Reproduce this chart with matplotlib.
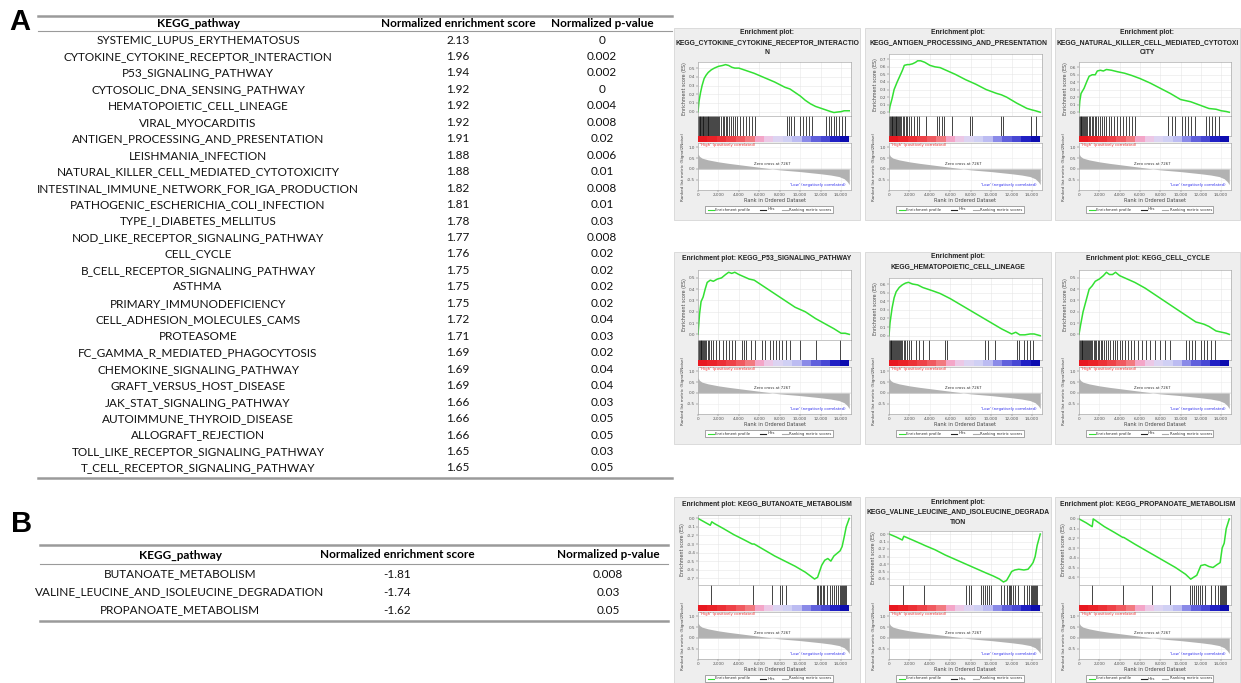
import matplotlib
matplotlib.use('Agg')
import matplotlib.pyplot as plt
from matplotlib.patches import Rectangle
import numpy as np

# ---------------- DATA ----------------
pathways_up = ["SYSTEMIC_LUPUS_ERYTHEMATOSUS", "CYTOKINE_CYTOKINE_RECEPTOR_INTERACTION",
               "P53_SIGNALING_PATHWAY", "CYTOSOLIC_DNA_SENSING_PATHWAY", "HEMATOPOIETIC_CELL_LINEAGE",
               "VIRAL_MYOCARDITIS", "ANTIGEN_PROCESSING_AND_PRESENTATION", "LEISHMANIA_INFECTION",
               "NATURAL_KILLER_CELL_MEDIATED_CYTOTOXICITY", "INTESTINAL_IMMUNE_NETWORK_FOR_IGA_PRODUCTION",
               "PATHOGENIC_ESCHERICHIA_COLI_INFECTION", "TYPE_I_DIABETES_MELLITUS",
               "NOD_LIKE_RECEPTOR_SIGNALING_PATHWAY", "CELL_CYCLE", "B_CELL_RECEPTOR_SIGNALING_PATHWAY",
               "ASTHMA", "PRIMARY_IMMUNODEFICIENCY", "CELL_ADHESION_MOLECULES_CAMS", "PROTEASOME",
               "FC_GAMMA_R_MEDIATED_PHAGOCYTOSIS", "CHEMOKINE_SIGNALING_PATHWAY", "GRAFT_VERSUS_HOST_DISEASE",
               "JAK_STAT_SIGNALING_PATHWAY", "AUTOIMMUNE_THYROID_DISEASE", "ALLOGRAFT_REJECTION",
               "TOLL_LIKE_RECEPTOR_SIGNALING_PATHWAY", "T_CELL_RECEPTOR_SIGNALING_PATHWAY"]
nes_up = [2.13, 1.96, 1.94, 1.92, 1.92, 1.92, 1.91, 1.88, 1.88, 1.82, 1.81, 1.78, 1.77, 1.76,
          1.75, 1.75, 1.75, 1.72, 1.71, 1.69, 1.69, 1.69, 1.66, 1.66, 1.66, 1.65, 1.65]
pval_up = ["0", "0.002", "0.002", "0", "0.004", "0.008", "0.02", "0.006", "0.01", "0.008", "0.01",
           "0.03", "0.008", "0.02", "0.02", "0.02", "0.02", "0.04", "0.03", "0.02", "0.04", "0.04",
           "0.03", "0.05", "0.05", "0.03", "0.05"]

pathways_down = ["BUTANOATE_METABOLISM", "VALINE_LEUCINE_AND_ISOLEUCINE_DEGRADATION", "PROPANOATE_METABOLISM"]
nes_down = [-1.81, -1.74, -1.62]
pval_down = ["0.008", "0.03", "0.05"]

table_header = ["KEGG_pathway", "Normalized enrichment score", "Normalized p-value"]

rank_ticks = [0, 2000, 4000, 6000, 8000, 10000, 12000, 14000]
rank_tick_labels = ["0", "2,000", "4,000", "6,000", "8,000", "10,000", "12,000", "14,000"]
rank_max = 14970
zero_cross = 7267

# ranked list metric (shared by all panels)
metric_rank = [0, 150, 400, 1000, 2000, 3000, 4000, 5000, 6000, 7267, 8000, 9000, 10000,
               11000, 12000, 13000, 13800, 14300, 14600, 14800]
metric_value = [0.70, 0.58, 0.50, 0.42, 0.33, 0.26, 0.20, 0.14, 0.08, 0.0, -0.04, -0.08, -0.12,
                -0.17, -0.22, -0.28, -0.35, -0.45, -0.58, -0.72]

# panel 1: CYTOKINE_CYTOKINE_RECEPTOR_INTERACTION
es1_rank = [0, 100, 250, 400, 600, 800, 1000, 1300, 1600, 2000, 2400, 2700, 3000, 3300, 3600, 4000,
            4500, 5000, 5500, 6500, 7500, 8500, 9000, 9500, 10000, 10500, 11000, 11500, 12000, 12500,
            13000, 13300, 13600, 14000, 14300, 14800]
es1_val = [0.0, 0.12, 0.22, 0.30, 0.38, 0.42, 0.45, 0.48, 0.50, 0.52, 0.53, 0.54, 0.53, 0.51, 0.50, 0.50,
           0.48, 0.46, 0.44, 0.39, 0.34, 0.28, 0.26, 0.22, 0.18, 0.13, 0.09, 0.06, 0.04, 0.02,
           0.0, -0.01, -0.005, 0.0, 0.01, 0.01]
hits1 = [20, 80, 150, 220, 300, 380, 450, 520, 600, 680, 760, 850, 930, 1000, 1100, 1180, 1260, 1350,
         1450, 1550, 1650, 1750, 1850, 1950, 2100, 2250, 2400, 2550, 2700, 2850, 3000, 3200, 3400, 3600,
         3850, 4100, 4400, 4700, 5000, 5300, 5600, 8700, 8900, 9100, 9400, 10000, 10300, 10600, 10900,
         11200, 12500, 12800, 13000, 13300, 13500, 13800, 14100, 14400]

# panel 2: ANTIGEN_PROCESSING_AND_PRESENTATION
es2_rank = [0, 100, 300, 500, 800, 1000, 1300, 1500, 1800, 2000, 2300, 2600, 2800, 3100, 3500, 4000,
            4500, 5000, 5500, 6500, 7500, 8500, 9500, 10500, 11000, 11500, 12500, 13500, 14000, 14300, 14800]
es2_val = [0.0, 0.08, 0.18, 0.30, 0.40, 0.46, 0.55, 0.62, 0.63, 0.63, 0.64, 0.66, 0.68, 0.68, 0.66, 0.62,
           0.60, 0.59, 0.56, 0.50, 0.43, 0.37, 0.30, 0.25, 0.23, 0.20, 0.12, 0.05, 0.03, 0.02, 0.0]
hits2 = [30, 100, 180, 250, 330, 400, 480, 560, 650, 720, 800, 900, 1000, 1100, 1200, 1350, 1500, 1650,
         1800, 2000, 2200, 2450, 2700, 2900, 3600, 4700, 4900, 5200, 5400, 6200, 7900, 8100, 11000, 11200,
         13900, 14400]

# panel 3: NATURAL_KILLER_CELL_MEDIATED_CYTOTOXICITY
es3_rank = [0, 80, 200, 500, 800, 1000, 1300, 1600, 1800, 2100, 2400, 2700, 3200, 3800, 4500, 5200,
            6000, 7000, 8000, 9000, 10000, 11000, 12000, 12800, 13500, 14000, 14500, 14800]
es3_val = [0.0, 0.15, 0.25, 0.32, 0.42, 0.48, 0.50, 0.50, 0.55, 0.56, 0.55, 0.57, 0.56, 0.54, 0.52, 0.49,
           0.45, 0.39, 0.32, 0.25, 0.17, 0.14, 0.09, 0.05, 0.04, 0.02, 0.01, 0.0]
hits3 = [20, 90, 160, 240, 320, 400, 500, 600, 700, 820, 950, 1100, 1250, 1400, 1550, 1700, 1900, 2100,
         2300, 2500, 2700, 2950, 3200, 3450, 3700, 4000, 4300, 4600, 4900, 5200, 5500, 8800, 9200, 9500,
         10100, 10400, 10700, 11000, 11400, 12500, 12800, 13100, 13400, 13800]

# panel 4: P53_SIGNALING_PATHWAY
es4_rank = [0, 150, 300, 500, 700, 900, 1200, 1500, 1900, 2300, 2700, 3000, 3300, 3600, 4000, 4500,
            5000, 5500, 6500, 7500, 8500, 9500, 10500, 11500, 12500, 13300, 14000, 14400, 14800]
es4_val = [0.0, 0.18, 0.29, 0.33, 0.40, 0.46, 0.48, 0.47, 0.49, 0.50, 0.53, 0.55, 0.54, 0.55, 0.53, 0.51,
           0.49, 0.48, 0.42, 0.36, 0.30, 0.24, 0.20, 0.14, 0.09, 0.05, 0.01, 0.01, 0.0]
hits4 = [20, 100, 180, 260, 340, 420, 520, 620, 720, 820, 950, 1100, 1300, 1500, 1800, 2100, 2400, 2700,
         3000, 3300, 3600, 4300, 4500, 4700, 5200, 5600, 6300, 6600, 7000, 7300, 7600, 7900, 8200, 8600,
         9000, 10000, 11500, 13900]

# panel 5: HEMATOPOIETIC_CELL_LINEAGE
es5_rank = [0, 100, 300, 500, 700, 1000, 1300, 1600, 1900, 2300, 2800, 3300, 3800, 4300, 5000, 6000,
            7000, 8000, 9000, 10000, 11000, 12000, 12400, 12800, 13300, 13800, 14200, 14800]
es5_val = [0.0, 0.15, 0.32, 0.44, 0.51, 0.56, 0.59, 0.61, 0.62, 0.60, 0.59, 0.56, 0.54, 0.52, 0.49, 0.43,
           0.36, 0.29, 0.22, 0.15, 0.08, 0.02, 0.04, 0.01, 0.01, 0.02, 0.02, 0.0]
hits5 = [20, 90, 160, 240, 320, 400, 480, 560, 650, 750, 850, 950, 1050, 1150, 1300, 1450, 1600, 1800,
         2000, 2200, 2600, 2900, 3300, 3900, 5500, 5700, 9400, 9700, 10400, 12500, 12700, 13200, 13500,
         13800, 14100]

# panel 6: CELL_CYCLE
es6_rank = [0, 150, 400, 700, 1000, 1300, 1600, 2000, 2400, 2700, 3000, 3300, 3600, 4000, 4500, 5000,
            5500, 6500, 7500, 8500, 9500, 10500, 11500, 12300, 12800, 13500, 14000, 14500, 14800]
es6_val = [0.0, 0.08, 0.20, 0.30, 0.40, 0.43, 0.47, 0.49, 0.52, 0.55, 0.53, 0.53, 0.55, 0.52, 0.50, 0.48,
           0.46, 0.41, 0.35, 0.29, 0.23, 0.17, 0.11, 0.09, 0.07, 0.03, 0.02, 0.01, 0.0]
hits6 = [20, 100, 180, 260, 340, 420, 500, 580, 680, 780, 880, 980, 1080, 1200, 1320, 1450, 1580, 1700,
         1850, 2000, 2150, 2300, 2500, 2700, 2900, 3100, 3300, 3500, 3750, 4000, 4250, 4500, 4800, 5100,
         5400, 5800, 6200, 6600, 7000, 7500, 8000, 8500, 9000, 10500, 10800, 11100, 11400, 12000, 12300,
         12600, 13000, 13400]

# panel 7: BUTANOATE_METABOLISM
es7_rank = [0, 600, 1200, 1350, 1600, 2500, 3500, 4500, 5300, 5500, 6500, 7500, 8500, 9500, 10500, 11400,
            11700, 11900, 12100, 12400, 12700, 13000, 13300, 13600, 13900, 14100, 14300, 14500, 14800]
es7_val = [0.0, -0.04, -0.08, -0.04, -0.06, -0.12, -0.19, -0.25, -0.30, -0.30, -0.37, -0.44, -0.50, -0.56,
           -0.63, -0.71, -0.69, -0.62, -0.55, -0.49, -0.47, -0.50, -0.44, -0.41, -0.38, -0.33, -0.22, -0.10, 0.0]
hits7 = [1300, 5400, 7200, 8000, 8200, 8600, 11600, 11750, 11900, 12050, 12200, 12350, 12600, 12900, 13100,
         13300, 13500, 13700, 13900, 14000, 14100, 14200, 14300, 14400, 14500]

# panel 8: VALINE_LEUCINE_AND_ISOLEUCINE_DEGRADATION
es8_rank = [0, 700, 1300, 1450, 2300, 3300, 3450, 4500, 5500, 6500, 7500, 8500, 9500, 10200, 10800, 11200,
            11500, 11800, 12000, 12300, 12700, 13200, 13600, 13900, 14100, 14300, 14500, 14800]
es8_val = [0.0, -0.04, -0.08, -0.03, -0.08, -0.14, -0.15, -0.21, -0.28, -0.34, -0.40, -0.46, -0.52, -0.56,
           -0.60, -0.64, -0.62, -0.55, -0.50, -0.48, -0.47, -0.48, -0.47, -0.42, -0.38, -0.30, -0.15, 0.0]
hits8 = [1400, 3400, 7500, 7800, 8000, 9000, 9200, 9400, 9600, 9800, 10000, 11000, 11300, 11500, 11700,
         11800, 11900, 12100, 12300, 12600, 13200, 13500, 13700, 13900, 14000, 14100, 14200, 14300, 14400, 14500]

# panel 9: PROPANOATE_METABOLISM
es9_rank = [0, 700, 1300, 1400, 2500, 3500, 4300, 4400, 5500, 6500, 7500, 8500, 9500, 10500, 11000, 11300,
            11600, 12000, 12400, 12800, 13200, 13600, 13900, 14100, 14300, 14500, 14800]
es9_val = [0.0, -0.04, -0.08, 0.0, -0.08, -0.14, -0.19, -0.19, -0.26, -0.32, -0.38, -0.44, -0.50, -0.57,
           -0.62, -0.60, -0.58, -0.48, -0.47, -0.49, -0.50, -0.47, -0.45, -0.30, -0.25, -0.10, 0.0]
hits9 = [1300, 4300, 7200, 9000, 10900, 11100, 11300, 11500, 11700, 11900, 12100, 12400, 13000, 13400,
         13700, 13900, 14000, 14100, 14200, 14300, 14400, 14500]

panels = [
    (["Enrichment plot:", "KEGG_CYTOKINE_CYTOKINE_RECEPTOR_INTERACTIO", "N"], es1_rank, es1_val, hits1,
     [0.0, 0.1, 0.2, 0.3, 0.4, 0.5]),
    (["Enrichment plot:", "KEGG_ANTIGEN_PROCESSING_AND_PRESENTATION"], es2_rank, es2_val, hits2,
     [0.0, 0.1, 0.2, 0.3, 0.4, 0.5, 0.6, 0.7]),
    (["Enrichment plot:", "KEGG_NATURAL_KILLER_CELL_MEDIATED_CYTOTOXI", "CITY"], es3_rank, es3_val, hits3,
     [0.0, 0.1, 0.2, 0.3, 0.4, 0.5, 0.6]),
    (["Enrichment plot: KEGG_P53_SIGNALING_PATHWAY"], es4_rank, es4_val, hits4,
     [0.0, 0.1, 0.2, 0.3, 0.4, 0.5]),
    (["Enrichment plot:", "KEGG_HEMATOPOIETIC_CELL_LINEAGE"], es5_rank, es5_val, hits5,
     [0.0, 0.1, 0.2, 0.3, 0.4, 0.5, 0.6]),
    (["Enrichment plot: KEGG_CELL_CYCLE"], es6_rank, es6_val, hits6,
     [0.0, 0.1, 0.2, 0.3, 0.4, 0.5]),
    (["Enrichment plot: KEGG_BUTANOATE_METABOLISM"], es7_rank, es7_val, hits7,
     [0.0, -0.1, -0.2, -0.3, -0.4, -0.5, -0.6, -0.7]),
    (["Enrichment plot:", "KEGG_VALINE_LEUCINE_AND_ISOLEUCINE_DEGRADA", "TION"], es8_rank, es8_val, hits8,
     [0.0, -0.1, -0.2, -0.3, -0.4, -0.5, -0.6]),
    (["Enrichment plot: KEGG_PROPANOATE_METABOLISM"], es9_rank, es9_val, hits9,
     [0.0, -0.1, -0.2, -0.3, -0.4, -0.5, -0.6]),
]

# ---------------- STYLE / LAYOUT ----------------
W, H = 1241, 683
fig = plt.figure(figsize=(W / 100, H / 100), dpi=100)
TFONT = ['Lato', 'DejaVu Sans']
PFONT = ['Liberation Sans', 'DejaVu Sans']

base = fig.add_axes([0, 0, 1, 1])
base.set_xlim(0, W)
base.set_ylim(H, 0)
base.axis('off')


def px_axes(x0, y0, x1, y1):
    return fig.add_axes([x0 / W, 1 - y1 / H, (x1 - x0) / W, (y1 - y0) / H])


# ---- panel letters
base.text(20, 22, "A", fontsize=21, fontweight='bold', ha='center', va='center', family=PFONT)
base.text(22, 524, "B", fontsize=21, fontweight='bold', ha='center', va='center', family=PFONT)

# ---- table A
colA = [198, 458, 602]
base.plot([38, 672], [16, 16], color='#9a9a9a', lw=1.8)
base.plot([38, 672], [31, 31], color='#9a9a9a', lw=0.8)
base.plot([38, 672], [478, 478], color='#9a9a9a', lw=1.8)
for x, h in zip(colA, table_header):
    base.text(x, 23.5, h, ha='center', va='center', fontsize=8.5, fontweight='bold', family=TFONT)
rowA0, rowAstep = 40.0, 16.46
for i, (p, n, v) in enumerate(zip(pathways_up, nes_up, pval_up)):
    y = rowA0 + i * rowAstep
    base.text(colA[0], y, p, ha='center', va='center', fontsize=8.5, family=TFONT, color='#111111')
    base.text(colA[1], y, f"{n:.2f}", ha='center', va='center', fontsize=8.5, family=TFONT, color='#111111')
    base.text(colA[2], y, v, ha='center', va='center', fontsize=8.5, family=TFONT, color='#111111')

# ---- table B
colB = [180, 397, 608]
base.plot([40, 668], [545, 545], color='#9a9a9a', lw=1.8)
base.plot([40, 668], [564, 564], color='#9a9a9a', lw=0.8)
base.plot([40, 668], [621, 621], color='#9a9a9a', lw=1.8)
for x, h in zip(colB, table_header):
    base.text(x, 555, h, ha='center', va='center', fontsize=8.5, fontweight='bold', family=TFONT)
for i, (p, n, v) in enumerate(zip(pathways_down, nes_down, pval_down)):
    y = 574 + i * 18
    base.text(colB[0], y, p, ha='center', va='center', fontsize=8.5, family=TFONT, color='#111111')
    base.text(colB[1], y, f"{n:.2f}", ha='center', va='center', fontsize=8.5, family=TFONT, color='#111111')
    base.text(colB[2], y, v, ha='center', va='center', fontsize=8.5, family=TFONT, color='#111111')

# ---- GSEA panels
cols_px = [(698, 851), (889, 1042), (1079, 1231)]
rows_px = [28, 252, 497]
bar_colors = ['#e81820', '#ea2228', '#ec3036', '#ee4248', '#f05a60', '#f27a80', '#f4a6c8', '#ecc8e6',
              '#dcd4f2', '#d0d0f4', '#bcbcf2', '#8a8ae8', '#6060dc', '#4848d4', '#2020c4', '#0c0cb0']
bar_rgb = np.array([[matplotlib.colors.to_rgb(c) for c in bar_colors]])

TICK_FS = 3.0
tick_kw = dict(labelsize=TICK_FS, length=1.2, width=0.3, pad=0.8, colors='#555555')

for k, (title, er, ev, hits, yt) in enumerate(panels):
    r, c = divmod(k, 3)
    T = rows_px[r]
    L, R = cols_px[c]
    # background box
    base.add_patch(Rectangle((L - 24, T), (R + 9) - (L - 24), 192, facecolor='#eeeeee',
                             edgecolor='#d6d6d6', lw=0.6, zorder=0))
    cx = (L - 24 + R + 9) / 2
    n = len(title)
    for i, t in enumerate(title):
        y = T + (7 if n == 1 else 5 + i * 10)
        base.text(cx, y, t, ha='center', va='center', fontsize=4.9, fontweight='bold', family=PFONT,
                  color='#222222')
    es_top = T + 10 + 8 * n

    # ES axes
    ax = px_axes(L, es_top, R, T + 88)
    ax.set_facecolor('white')
    ax.plot(er, ev, color='#33e033', lw=1.1, solid_joinstyle='round')
    ax.set_xlim(0, rank_max)
    if yt[-1] > 0:
        ax.set_ylim(-0.05, yt[-1] + 0.07)
    else:
        ax.set_ylim(yt[-1] - 0.08, 0.04)
    ax.set_yticks(yt, [f"{v:.1f}" for v in yt])
    ax.set_xticks(rank_ticks)
    ax.set_xticklabels([])
    ax.grid(True, color='#e6e6e6', lw=0.4)
    ax.set_axisbelow(True)
    ax.tick_params(**tick_kw)
    ax.tick_params(axis='x', length=0)
    for s in ax.spines.values():
        s.set_color('#9a9a9a'); s.set_linewidth(0.4)
    ax.set_ylabel("Enrichment score (ES)", fontsize=3.4, labelpad=1.5, color='#444444')

    # hits axes
    ah = px_axes(L, T + 88, R, T + 108)
    ah.vlines(hits, 0, 1, color='#111111', lw=0.55)
    ah.set_xlim(0, rank_max)
    ah.set_ylim(0, 1)
    ah.set_xticks([]); ah.set_yticks([])
    for s in ah.spines.values():
        s.set_color('#9a9a9a'); s.set_linewidth(0.4)

    # colour bar
    ab = px_axes(L, T + 108, R, T + 114)
    ab.imshow(bar_rgb, aspect='auto', extent=(0, rank_max * 0.985, 0, 1), interpolation='nearest')
    ab.set_xlim(0, rank_max)
    ab.set_ylim(0, 1)
    ab.axis('off')

    # ranked metric axes
    am = px_axes(L, T + 115, R, T + 162)
    am.fill_between(metric_rank, 0, metric_value, color='#b2b2b2', lw=0)
    am.axhline(0, color='#bdbdbd', lw=0.3)
    am.set_xlim(0, rank_max)
    am.set_ylim(-0.97, 1.2)
    am.set_yticks([1.0, 0.5, 0.0, -0.5], ["1.0", "0.5", "0.0", "-0.5"])
    am.set_xticks(rank_ticks, rank_tick_labels)
    am.grid(True, color='#ececec', lw=0.4)
    am.set_axisbelow(True)
    am.tick_params(**tick_kw)
    for s in am.spines.values():
        s.set_color('#9a9a9a'); s.set_linewidth(0.4)
    am.set_xlabel("Rank in Ordered Dataset", fontsize=3.6, labelpad=1.2, color='#444444')
    am.set_ylabel("Ranked list metric (Signal2Noise)", fontsize=3.0, labelpad=1.5, color='#444444')
    am.text(0.01, 0.99, "'High' (positively correlated)", transform=am.transAxes, ha='left', va='top',
            fontsize=2.8, color='#ee3030')
    am.text(zero_cross, 0.22, f"Zero cross at {zero_cross}", ha='center', va='center', fontsize=2.8,
            color='#333333')
    am.text(0.78, 0.1, "'Low' (negatively correlated)", transform=am.transAxes, ha='center', va='center',
            fontsize=2.8, color='#3030ee')

    # legend
    lx0, lx1 = L + 7, R - 18
    ly0, ly1 = T + 178, T + 185
    base.add_patch(Rectangle((lx0, ly0), lx1 - lx0, ly1 - ly0, facecolor='white', edgecolor='#666666',
                             lw=0.4, zorder=2))
    ym = (ly0 + ly1) / 2
    w = lx1 - lx0
    items = [(0.02, '#33e033', "Enrichment profile"), (0.43, '#222222', "Hits"),
             (0.60, '#aaaaaa', "Ranking metric scores")]
    for fx, col, lab in items:
        x0 = lx0 + fx * w
        base.plot([x0, x0 + 6], [ym, ym], color=col, lw=0.8, zorder=3)
        base.text(x0 + 7.5, ym, lab, ha='left', va='center', fontsize=2.7, color='#333333', zorder=3)

fig.savefig("out.png", dpi=100)
